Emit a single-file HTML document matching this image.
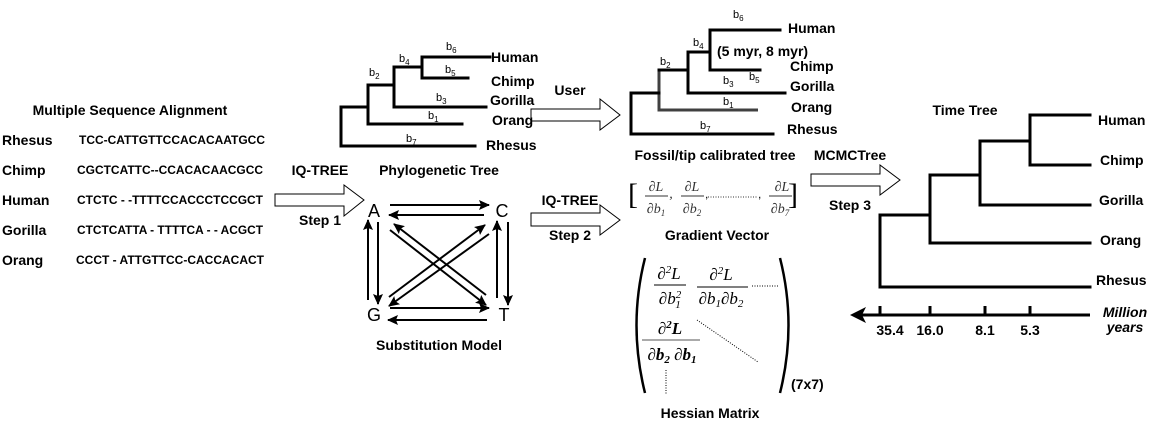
<!DOCTYPE html>
<html><head><meta charset="utf-8"><style>
html,body{margin:0;padding:0;background:#fff;}
svg{display:block;font-family:"Liberation Sans",sans-serif;}
.b{font-weight:bold;font-size:14px;}
.s{font-weight:bold;font-size:12px;}
.l{font-size:11px;}
.sub{font-size:8px;}
.t{stroke:#000;stroke-width:3;fill:none;stroke-linecap:square;}
.ar{fill:#fff;stroke:#000;stroke-width:1;}
.m{font-family:"Liberation Serif",serif;font-style:italic;}
</style></head><body>
<svg width="1160" height="428" viewBox="0 0 1160 428" xmlns="http://www.w3.org/2000/svg">
<defs>
<marker id="ah" markerWidth="11" markerHeight="10" refX="10" refY="5" orient="auto" markerUnits="userSpaceOnUse"><path d="M0,0 L11,5 L0,10 L2,5 z" fill="#000"/></marker>
</defs>
<!-- MSA -->
<text class="b" x="130" y="115" text-anchor="middle">Multiple Sequence Alignment</text>
<text class="b" x="2" y="145" font-size="13">Rhesus</text>
<text class="b" x="2" y="175" font-size="13">Chimp</text>
<text class="b" x="2" y="205" font-size="13">Human</text>
<text class="b" x="2" y="235" font-size="13">Gorilla</text>
<text class="b" x="2" y="265" font-size="13">Orang</text>
<text class="s" x="79" y="144" textLength="186" lengthAdjust="spacingAndGlyphs">TCC-CATTGTTCCACACAATGCC</text>
<text class="s" x="77" y="174" textLength="186" lengthAdjust="spacingAndGlyphs">CGCTCATTC--CCACACAACGCC</text>
<text class="s" x="77" y="204" textLength="186" lengthAdjust="spacingAndGlyphs">CTCTC - -TTTTCCACCCTCCGCT</text>
<text class="s" x="77" y="234" textLength="186" lengthAdjust="spacingAndGlyphs">CTCTCATTA - TTTTCA - - ACGCT</text>
<text class="s" x="76" y="264" textLength="188" lengthAdjust="spacingAndGlyphs">CCCT - ATTGTTCC-CACCACACT</text>

<!-- arrows -->
<text class="b" x="320" y="175" text-anchor="middle">IQ-TREE</text>
<polygon class="ar" points="275,194 344,194 344,185 364,200 344,216 344,206 275,206"/>
<text class="b" x="320" y="225" text-anchor="middle">Step 1</text>

<text class="b" x="570" y="95" text-anchor="middle">User</text>
<polygon class="ar" points="531,109 600,109 600,99 620,115 600,130 600,121 531,121"/>

<text class="b" x="570" y="205" text-anchor="middle">IQ-TREE</text>
<polygon class="ar" points="531,213 600,213 600,205 620,220 600,235 600,226 531,226"/>
<text class="b" x="570" y="240" text-anchor="middle">Step 2</text>

<text class="b" x="850" y="160" text-anchor="middle">MCMCTree</text>
<polygon class="ar" points="811,174 880,174 880,165 900,180 880,195 880,186 811,186"/>
<text class="b" x="850" y="210" text-anchor="middle">Step 3</text>

<!-- phylo tree 1 -->
<path class="t" d="M475,146 H341 V107 H368 M368,85 V124 H462 M368,85 H394 M394,67 V107 H486 M394,67 H422 M422,57 V78 H468 M422,57 H490"/>
<text class="b" x="491" y="62" font-size="12">Human</text>
<text class="b" x="491" y="86" font-size="12">Chimp</text>
<text class="b" x="490" y="105" font-size="12">Gorilla</text>
<text class="b" x="492" y="125" font-size="12">Orang</text>
<text class="b" x="486" y="150" font-size="12">Rhesus</text>
<text class="l" x="446" y="50">b<tspan class="sub" dy="3">6</tspan></text>
<text class="l" x="399" y="62">b<tspan class="sub" dy="3">4</tspan></text>
<text class="l" x="445" y="73">b<tspan class="sub" dy="3">5</tspan></text>
<text class="l" x="369" y="76">b<tspan class="sub" dy="3">2</tspan></text>
<text class="l" x="436" y="101">b<tspan class="sub" dy="3">3</tspan></text>
<text class="l" x="428" y="119">b<tspan class="sub" dy="3">1</tspan></text>
<text class="l" x="406" y="142">b<tspan class="sub" dy="3">7</tspan></text>
<text class="b" x="439" y="175" text-anchor="middle">Phylogenetic Tree</text>

<!-- substitution model -->
<text x="374" y="217" font-size="18" text-anchor="middle">A</text>
<text x="502" y="217" font-size="18" text-anchor="middle">C</text>
<text x="374" y="321" font-size="18" text-anchor="middle">G</text>
<text x="504" y="321" font-size="18" text-anchor="middle">T</text>
<g stroke="#000" stroke-width="2" marker-end="url(#ah)">
<line x1="390" y1="205" x2="489" y2="205"/>
<line x1="484" y1="215" x2="389" y2="215"/>
<line x1="390" y1="308" x2="489" y2="308"/>
<line x1="487" y1="320" x2="388" y2="320"/>
<line x1="368" y1="300" x2="368" y2="220"/>
<line x1="378" y1="222" x2="378" y2="304"/>
<line x1="497" y1="298" x2="497" y2="221"/>
<line x1="508" y1="222" x2="508" y2="305"/>
<line x1="390" y1="230" x2="486" y2="305"/>
<line x1="486" y1="295" x2="394" y2="224"/>
<line x1="389" y1="297" x2="485" y2="225"/>
<line x1="489" y1="234" x2="389" y2="306"/>
</g>
<text class="b" x="439" y="350" text-anchor="middle">Substitution Model</text>

<!-- tree 2 -->
<path class="t" d="M773,134 H631 V93 H659 M688,93 H785 M688,52 V93 M688,52 H710 V30 H780 M710,30 V70 H760 M659,70 H688"/>
<path d="M659,70 V110 H758" stroke="#000" stroke-width="3" fill="none" opacity="0.75"/>
<text class="l" x="733" y="18">b<tspan class="sub" dy="3">6</tspan></text>
<text class="b" x="788" y="33" font-size="12">Human</text>
<text class="l" x="693" y="46">b<tspan class="sub" dy="3">4</tspan></text>
<text class="b" x="717" y="56" font-size="12">(5 myr, 8 myr)</text>
<text class="l" x="660" y="65">b<tspan class="sub" dy="3">2</tspan></text>
<text class="b" x="790" y="71" font-size="12">Chimp</text>
<text class="l" x="723" y="84">b<tspan class="sub" dy="3">3</tspan></text>
<text class="l" x="749" y="80">b<tspan class="sub" dy="3">5</tspan></text>
<text class="b" x="790" y="91" font-size="12">Gorilla</text>
<text class="l" x="723" y="105">b<tspan class="sub" dy="3">1</tspan></text>
<text class="b" x="791" y="112" font-size="12">Orang</text>
<text class="l" x="700" y="129">b<tspan class="sub" dy="3">7</tspan></text>
<text class="b" x="787" y="134" font-size="12">Rhesus</text>
<text class="b" x="715" y="160" text-anchor="middle">Fossil/tip calibrated tree</text>

<!-- gradient -->
<text x="628" y="204" font-size="30" font-family="Liberation Serif">[</text>
<text x="788" y="204" font-size="30" font-family="Liberation Serif">]</text>
<g class="m" font-size="14" text-anchor="middle" fill="#333">
<text x="656" y="191">∂L</text><line x1="645" y1="196" x2="668" y2="196" stroke="#333"/><text x="656" y="213">∂b<tspan font-size="9" dy="3">1</tspan></text>
<text x="671" y="198">,</text>
<text x="692" y="191">∂L</text><line x1="681" y1="196" x2="704" y2="196" stroke="#333"/><text x="692" y="213">∂b<tspan font-size="9" dy="3">2</tspan></text>
<text x="782" y="191">∂L</text><line x1="769" y1="196" x2="792" y2="196" stroke="#333"/><text x="780" y="213">∂b<tspan font-size="9" dy="3">7</tspan></text>
</g>
<line x1="708" y1="197" x2="757" y2="197" stroke="#333" stroke-dasharray="1,1.5"/>
<text x="705" y="198" font-size="12">,</text><text x="758" y="198" font-size="12">,</text>
<text class="b" x="717" y="240" text-anchor="middle">Gradient Vector</text>

<!-- hessian -->
<path d="M645,258 Q628,325 645,393" stroke="#000" stroke-width="2.5" fill="none"/>
<path d="M780,258 Q797,325 780,393" stroke="#000" stroke-width="2.5" fill="none"/>
<g font-family="Liberation Serif" font-size="17" text-anchor="middle">
<text x="669" y="279" font-style="italic">∂<tspan font-size="11" dy="-6">2</tspan><tspan dy="6">L</tspan></text>
<line x1="654" y1="285" x2="686" y2="285" stroke="#000"/>
<text x="670" y="304" font-style="italic">∂b<tspan font-size="11" dy="-6">2</tspan><tspan font-size="11" dx="-6" dy="10">1</tspan></text>
<text x="721" y="280" font-style="italic">∂<tspan font-size="11" dy="-6">2</tspan><tspan dy="6">L</tspan></text>
<line x1="697" y1="287" x2="748" y2="287" stroke="#000"/>
<text x="721" y="304" font-style="italic">∂b<tspan font-size="11" dy="3">1</tspan><tspan dy="-3">∂b</tspan><tspan font-size="11" dy="3">2</tspan></text>
<text x="670" y="334" font-style="italic" font-weight="bold">∂<tspan font-size="11" dy="-6">2</tspan><tspan dy="6">L</tspan></text>
<line x1="642" y1="340" x2="700" y2="340" stroke="#555"/>
<text x="672" y="360" font-style="italic" font-weight="bold">∂b<tspan font-size="11" dy="3">2</tspan><tspan dy="-3"> ∂b</tspan><tspan font-size="11" dy="3">1</tspan></text>
</g>
<line x1="752" y1="286" x2="778" y2="286" stroke="#000" stroke-dasharray="1,1.5"/>
<line x1="697" y1="320" x2="758" y2="362" stroke="#000" stroke-dasharray="1,1.5"/>
<line x1="666" y1="370" x2="666" y2="394" stroke="#000" stroke-dasharray="1,1.5"/>
<text class="b" x="791" y="389" font-size="12">(7x7)</text>
<text class="b" x="710" y="418" text-anchor="middle">Hessian Matrix</text>

<!-- time tree -->
<text class="b" x="965" y="115" text-anchor="middle">Time Tree</text>
<path class="t" d="M1090,287 H880 V215 H930 M930,175 V243 H1090 M930,175 H980 M980,141 V205 H1090 M980,141 H1030 M1030,115 V165 H1090 M1030,115 H1090"/>
<text class="b" x="1098" y="125" font-size="13">Human</text>
<text class="b" x="1100" y="165" font-size="13">Chimp</text>
<text class="b" x="1099" y="205" font-size="13">Gorilla</text>
<text class="b" x="1100" y="245" font-size="13">Orang</text>
<text class="b" x="1096" y="285" font-size="13">Rhesus</text>
<line x1="862" y1="315" x2="1090" y2="315" stroke="#000" stroke-width="3"/>
<path d="M850,315 L866,307 L862,315 L866,323 z" fill="#000"/>
<g stroke="#000" stroke-width="3"><line x1="880" y1="306" x2="880" y2="315"/><line x1="930" y1="306" x2="930" y2="315"/><line x1="985" y1="306" x2="985" y2="315"/><line x1="1030" y1="306" x2="1030" y2="315"/></g>
<text class="b" x="890" y="335" text-anchor="middle" font-size="13">35.4</text>
<text class="b" x="930" y="335" text-anchor="middle" font-size="13">16.0</text>
<text class="b" x="985" y="335" text-anchor="middle" font-size="13">8.1</text>
<text class="b" x="1030" y="335" text-anchor="middle" font-size="13">5.3</text>
<text class="b" x="1125" y="317" text-anchor="middle" font-style="italic" font-size="12">Million</text>
<text class="b" x="1125" y="332" text-anchor="middle" font-style="italic" font-size="12">years</text>
</svg>
</body></html>
